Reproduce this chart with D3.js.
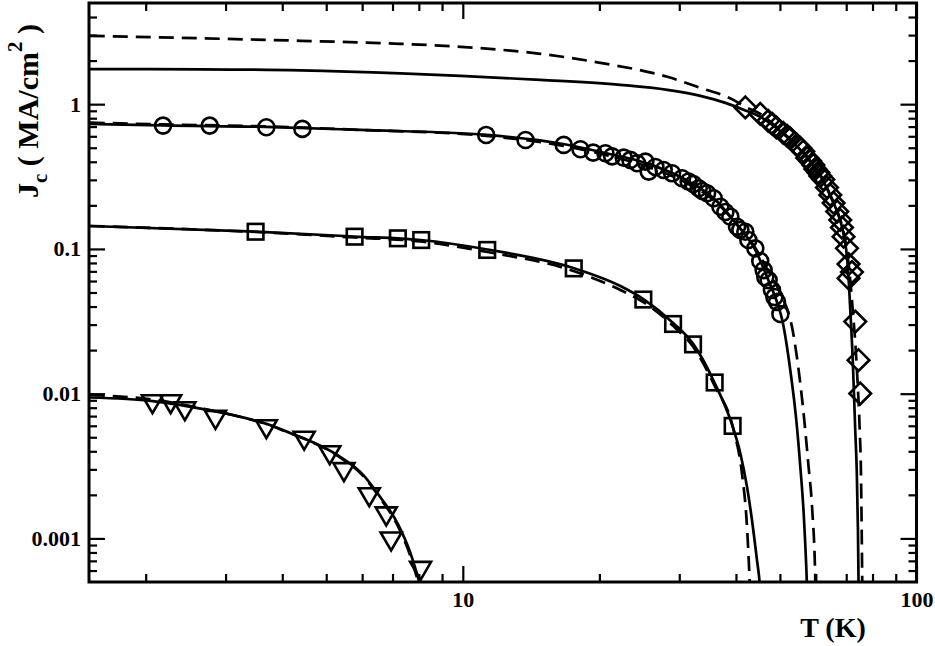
<!DOCTYPE html>
<html><head><meta charset="utf-8">
<script src="https://cdn.jsdelivr.net/npm/d3@7"></script>
<style>body{margin:0;background:#fff}svg{display:block}</style>
</head><body>
<svg id="c" width="935" height="646"></svg>
<script>
// ---------- data ----------
const xMajorTicks = [10, 100];
const xTickLabels = ["10", "100"];
const yMajorTicks = [1, 0.1, 0.01, 0.001];
const yTickLabels = ["1", "0.1", "0.01", "0.001"];
const xLabel = "T (K)";

const triangles = [[2.07,0.00887],[2.27,0.00887],[2.44,0.00794],[2.85,0.00691],[3.69,0.00596],[4.47,0.00496],[5.09,0.00394],[5.47,0.00301],[6.22,0.00202],[6.78,0.00149],[6.95,0.00100],[8.07,0.000626]];
const triSolid = [[1.506,0.00941],[2.073,0.00887],[2.513,0.00810],[3.239,0.00691],[3.771,0.00606],[4.174,0.00533],[4.458,0.00492],[5.297,0.00376],[6.043,0.00273],[6.588,0.00192],[7.181,0.00127],[7.670,0.000788],[7.988,0.000521],[8.11,0.000437]];
const triDashed = [[1.506,0.0098],[2.073,0.0091],[2.513,0.0082],[3.239,0.0069],[3.771,0.00603],[4.174,0.0053],[4.458,0.0049],[5.297,0.00372],[6.043,0.00268],[6.588,0.00188],[7.181,0.00123],[7.670,0.00075],[7.97,0.00050],[8.08,0.00042]];

const squares = [[3.494,0.1315],[5.774,0.1215],[7.192,0.1184],[8.097,0.1152],[11.32,0.0984],[17.56,0.0734],[25.0,0.0447],[29.07,0.0303],[32.17,0.0219],[35.9,0.01195],[39.33,0.00599]];
const sqSolid = [[1.506,0.1440],[3.494,0.1315],[5.774,0.1218],[8.07,0.1152],[11.33,0.0991],[17.53,0.0738],[22.25,0.0554],[25.00,0.0450],[29.12,0.0307],[32.22,0.0220],[35.84,0.0120],[39.26,0.00605],[40.89,0.00388],[42.31,0.00227],[43.40,0.00133],[44.51,0.000706],[45.10,0.000497],[45.37,0.000373]];
const sqDashed = [[1.506,0.1440],[3.494,0.1309],[5.774,0.1199],[8.07,0.1125],[11.33,0.0952],[17.53,0.0704],[22.25,0.0520],[25.00,0.0429],[29.12,0.0293],[32.22,0.0210],[35.84,0.01145],[39.53,0.00559],[41.24,0.00281],[42.31,0.00120],[42.88,0.000513],[43.02,0.000404]];

const circles = [[2.184,0.711],[2.768,0.711],[3.690,0.693],[4.430,0.675],[11.26,0.613],[13.75,0.566],[16.69,0.523],[18.17,0.488],[19.38,0.463],[20.62,0.458],[21.34,0.436],[22.63,0.427],[23.41,0.412],[24.22,0.391],[25.26,0.401],[25.69,0.342],[26.58,0.368],[27.72,0.351],[28.93,0.333],[30.43,0.308],[31.46,0.292],[32.22,0.281],[33.11,0.2625],[33.73,0.2514],[34.55,0.2424],[35.73,0.2239],[36.96,0.1957],[37.91,0.180],[38.88,0.1670],[40.22,0.1424],[40.90,0.1351],[41.95,0.1315],[42.60,0.1152],[44.13,0.1009],[45.25,0.0825],[46.03,0.0714],[46.42,0.0639],[47.21,0.0609],[48.03,0.0520],[48.61,0.0465],[49.27,0.0431],[50.11,0.0355]];
const circSolid = [[1.506,0.731],[2.181,0.713],[3.676,0.697],[5.953,0.664],[11.28,0.613],[16.64,0.531],[20.62,0.460],[25.26,0.393],[30.47,0.309],[35.66,0.225],[40.28,0.1463],[44.13,0.0984],[47.14,0.0609],[49.34,0.0423],[50.60,0.0322],[52.70,0.01454],[54.33,0.00656],[55.44,0.00315],[56.44,0.00144],[57.30,0.000513],[57.45,0.000404]];
const circDashed = [[1.506,0.746],[2.181,0.725],[3.676,0.702],[5.953,0.664],[11.28,0.604],[16.64,0.515],[20.62,0.446],[25.26,0.374],[30.47,0.295],[35.66,0.218],[40.28,0.1463],[44.13,0.1014],[47.62,0.0660],[50.60,0.0465],[53.15,0.0290],[55.44,0.01182],[56.58,0.00656],[57.83,0.00312],[58.92,0.00156],[59.83,0.000513],[59.88,0.000404]];

const diamonds = [[41.95,0.950],[45.25,0.857],[47.14,0.767],[48.11,0.731],[49.10,0.691],[50.86,0.633],[51.91,0.604],[52.70,0.580],[54.52,0.523],[55.44,0.4985],[56.29,0.4716],[57.45,0.425],[58.31,0.405],[59.24,0.380],[59.83,0.357],[60.76,0.3376],[61.38,0.319],[62.31,0.302],[63.49,0.266],[64.56,0.236],[65.65,0.2077],[66.89,0.1814],[67.91,0.1585],[68.50,0.1406],[69.06,0.1215],[70.26,0.1009],[70.83,0.0786],[72.06,0.0692],[70.83,0.0626],[73.28,0.0315],[74.50,0.01705],[75.16,0.01003]];
const topSolid = [[1.506,1.746],[2.644,1.741],[4.391,1.713],[7.292,1.633],[9.884,1.569],[14.83,1.472],[22.25,1.360],[28.24,1.256],[33.39,1.141],[37.91,1.021],[41.95,0.906],[45.25,0.817],[49.10,0.686],[52.70,0.566],[56.29,0.460],[59.24,0.374],[62.31,0.295],[64.56,0.232],[66.89,0.180],[68.60,0.1395],[70.00,0.0984],[70.72,0.0692],[71.27,0.0443],[72.36,0.01705],[73.28,0.00559],[73.84,0.00296],[74.29,0.001138],[74.52,0.000497],[74.59,0.000373]];
const topDashed = [[1.506,2.967],[2.644,2.851],[4.391,2.741],[7.292,2.612],[9.884,2.490],[14.83,2.228],[20.11,1.930],[28.24,1.545],[33.39,1.296],[39.48,1.071],[41.95,0.958],[45.25,0.857],[49.10,0.697],[52.70,0.575],[56.29,0.468],[59.24,0.380],[62.31,0.300],[64.56,0.236],[66.89,0.183],[68.60,0.1417],[70.00,0.1047],[71.09,0.0714],[72.06,0.0443],[73.91,0.01454],[74.96,0.00559],[75.42,0.00296],[75.72,0.001138],[75.92,0.000513],[76.00,0.000373]];

// ---------- layout ----------
const L = 89, R = 916.5, T = 3, B = 582;
const svg = d3.select("#c");
const x = d3.scaleLog().domain([1.5, 100]).range([L, R]);
const y = d3.scaleLog().domain([0.0005, 5]).range([B, T]);
const FONT = "'Liberation Serif','Times New Roman',serif";

svg.append("defs").append("clipPath").attr("id", "clip")
  .append("rect").attr("x", L).attr("y", T).attr("width", R - L).attr("height", B - T);

// minor ticks
const xMinor = [];
[1, 10].forEach(d => { for (let k = 2; k <= 9; k++) { const v = k * d; if (v > 1.5 && v < 100) xMinor.push(v); } });
const yMinor = [];
[0.0001, 0.001, 0.01, 0.1, 1].forEach(d => { for (let k = 2; k <= 9; k++) { const v = k * d; if (v > 0.0005 && v < 5) yMinor.push(v); } });

function styleAxis(g) {
  g.select(".domain").remove();
  g.selectAll(".tick line").attr("stroke", "#000").attr("stroke-width", 2.2);
  g.selectAll("text").attr("font-family", FONT).attr("font-weight", "bold").attr("font-size", 22).attr("fill", "#000");
}
const noLab = () => "";
// bottom
svg.append("g").attr("transform", `translate(0,${B})`)
  .call(d3.axisBottom(x).tickValues(xMajorTicks).tickSize(-16).tickPadding(9).tickFormat((d, i) => xTickLabels[i])).call(styleAxis);
svg.append("g").attr("transform", `translate(0,${B})`)
  .call(d3.axisBottom(x).tickValues(xMinor).tickSize(-8).tickFormat(noLab)).call(styleAxis);
// top
svg.append("g").attr("transform", `translate(0,${T})`)
  .call(d3.axisTop(x).tickValues(xMajorTicks).tickSize(-16).tickFormat(noLab)).call(styleAxis);
svg.append("g").attr("transform", `translate(0,${T})`)
  .call(d3.axisTop(x).tickValues(xMinor).tickSize(-8).tickFormat(noLab)).call(styleAxis);
// left
svg.append("g").attr("transform", `translate(${L},0)`)
  .call(d3.axisLeft(y).tickValues(yMajorTicks).tickSize(-16).tickPadding(8).tickFormat((d, i) => yTickLabels[i])).call(styleAxis);
svg.append("g").attr("transform", `translate(${L},0)`)
  .call(d3.axisLeft(y).tickValues(yMinor).tickSize(-8).tickFormat(noLab)).call(styleAxis);
// right
svg.append("g").attr("transform", `translate(${R},0)`)
  .call(d3.axisRight(y).tickValues(yMajorTicks).tickSize(-16).tickFormat(noLab)).call(styleAxis);
svg.append("g").attr("transform", `translate(${R},0)`)
  .call(d3.axisRight(y).tickValues(yMinor).tickSize(-8).tickFormat(noLab)).call(styleAxis);

// curves
const line = d3.line().x(d => x(d[0])).y(d => y(d[1])).curve(d3.curveMonotoneX);
const gl = svg.append("g").attr("clip-path", "url(#clip)");
[[topSolid, false], [topDashed, true], [circSolid, false], [circDashed, true],
 [sqSolid, false], [sqDashed, true], [triSolid, false], [triDashed, true]].forEach(([data, dashed]) => {
  gl.append("path").datum(data).attr("d", line).attr("fill", "none").attr("stroke", "#000")
    .attr("stroke-width", 2.7).attr("stroke-dasharray", dashed ? "15,8" : null);
});

// markers
const gm = svg.append("g").attr("clip-path", "url(#clip)").attr("fill", "none").attr("stroke", "#000").attr("stroke-width", 2.6);
gm.selectAll("circle.c").data(circles).join("circle").attr("cx", d => x(d[0])).attr("cy", d => y(d[1])).attr("r", 8);
gm.selectAll("rect.s").data(squares).join("rect").attr("x", d => x(d[0]) - 7.8).attr("y", d => y(d[1]) - 7.8).attr("width", 15.6).attr("height", 15.6);
gm.selectAll("path.dm").data(diamonds).join("path")
  .attr("d", d => { const cx = x(d[0]), cy = y(d[1]), h = 10.8; return `M${cx},${cy - h}L${cx + h},${cy}L${cx},${cy + h}L${cx - h},${cy}Z`; });
gm.selectAll("path.tr").data(triangles).join("path")
  .attr("d", d => { const cx = x(d[0]), cy = y(d[1]), w = 10.5, hh = 18; return `M${cx - w},${cy - hh / 3}L${cx + w},${cy - hh / 3}L${cx},${cy + 2 * hh / 3}Z`; });

// frame
svg.append("rect").attr("x", L).attr("y", T).attr("width", R - L).attr("height", B - T)
  .attr("fill", "none").attr("stroke", "#000").attr("stroke-width", 3);

// axis titles
svg.append("text").attr("x", 833).attr("y", 637).attr("text-anchor", "middle")
  .attr("font-family", FONT).attr("font-weight", "bold").attr("font-size", 28).text(xLabel);
const yl = svg.append("text").attr("transform", "translate(38,111) rotate(-90)").attr("text-anchor", "middle")
  .attr("font-family", FONT).attr("font-weight", "bold").attr("font-size", 30);
yl.append("tspan").text("J");
yl.append("tspan").attr("dy", 9).attr("font-size", 21).text("c");
yl.append("tspan").attr("dy", -9).text(" ( MA/cm");
yl.append("tspan").attr("dy", -16).attr("font-size", 21).text("2");
yl.append("tspan").attr("dy", 16).text(" )");
</script>
</body></html>
